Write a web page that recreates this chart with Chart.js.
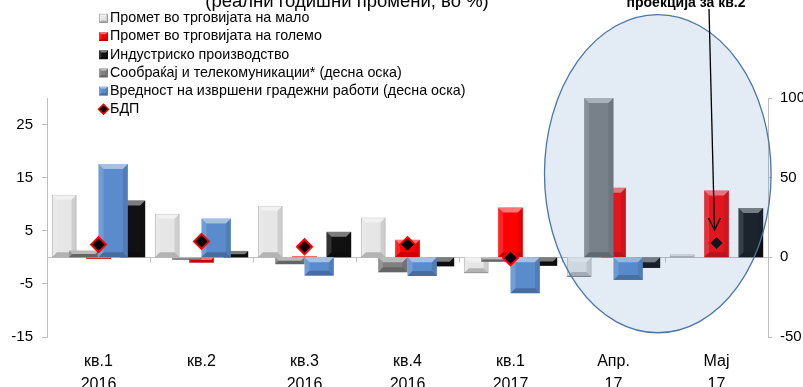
<!DOCTYPE html>
<html>
<head>
<meta charset="utf-8">
<script src="https://cdn.jsdelivr.net/npm/chart.js@4"></script>
<style>
  html, body { margin: 0; padding: 0; background: #fff; }
  #wrap { position: relative; width: 803px; height: 387px; }
  #wrap canvas { position: absolute; left: 0; top: 0; }
</style>
</head>
<body>
<div id="wrap">
  <canvas id="base" width="803" height="387"></canvas>
  <canvas id="right" width="803" height="387"></canvas>
  <canvas id="top" width="803" height="387"></canvas>
</div>
<script>
// categories on the x axis (two-line labels)
const categories = [['кв.1', '2016'], ['кв.2', ''], ['кв.3', '2016'], ['кв.4', '2016'], ['кв.1', '2017'], ['Апр.', '17'], ['Мај', '17']];

// left axis series, real annual change in %
const retail = [11.8, 8.2, 9.7, 7.5, -3.0, -3.7, 0.6];
const wholesale = [-0.3, -1.0, 0.2, 3.3, 9.4, 13.1, 12.6];
const industry = [10.7, 1.2, 4.8, -1.7, -1.6, -2.0, 9.3];
const gdp = [2.4, 3.0, 2.0, 2.4, -0.1, null, 2.7];

// right axis series
const transport = [4.2, -1.5, -4.3, -9.4, -2.8, 100, null];
const construction = [58.5, 24.4, -11.5, -11.7, -22.5, -14.2, null];

const seriesNames = [
  'Промет во трговијата на мало',
  'Промет во трговијата на големо',
  'Индустриско производство',
  'Сообраќај и телекомуникации* (десна оска)',
  'Вредност на извршени градежни работи (десна оска)',
  'БДП'
];

const leftTicks = [-15, -5, 5, 15, 25];
const rightTicks = [-50, 0, 50, 100];

const titleText = '(реални годишни промени, во %)';
const noteText = 'проекција за кв.2';

const FONT = "'Liberation Sans', Arial, sans-serif";

const colors = {
  retail: '#e6e6e6',
  wholesale: '#ff0000',
  industry: '#111111',
  transport: '#808080',
  construction: '#5a8ccd'
};

// plot area shared by the three stacked canvases
const PAD = { left: 47, right: 35, top: 98, bottom: 50 };
const LEFT_MIN = -15, LEFT_MAX = 30, RIGHT_MIN = -50, RIGHT_MAX = 100;

function poly(ctx, pts) {
  ctx.beginPath();
  ctx.moveTo(pts[0][0], pts[0][1]);
  for (let i = 1; i < pts.length; i++) ctx.lineTo(pts[i][0], pts[i][1]);
  ctx.closePath();
  ctx.fill();
}

// soft bevel on a rectangle: light top/left, dark bottom/right
function bevel(ctx, l, t, r, bm) {
  const w = r - l, h = bm - t;
  const b = Math.min(5, h / 2, w / 4);
  if (b <= 0.3) return;
  ctx.fillStyle = 'rgba(255,255,255,0.45)';
  poly(ctx, [[l, t], [r, t], [r - b, t + b], [l + b, t + b]]);
  ctx.fillStyle = 'rgba(255,255,255,0.14)';
  poly(ctx, [[l, t], [l + b, t + b], [l + b, bm - b], [l, bm]]);
  ctx.fillStyle = 'rgba(0,0,0,0.10)';
  poly(ctx, [[r, t], [r, bm], [r - b, bm - b], [r - b, t + b]]);
  ctx.fillStyle = 'rgba(0,0,0,0.22)';
  poly(ctx, [[l, bm], [r, bm], [r - b, bm - b], [l + b, bm - b]]);
}

const bevelPlugin = {
  id: 'bevel',
  afterDatasetDraw(chart, args) {
    const meta = args.meta;
    if (meta.type !== 'bar') return;
    const ctx = chart.ctx;
    ctx.save();
    meta.data.forEach(el => {
      const p = el.getProps(['x', 'y', 'base', 'width'], true);
      if (!isFinite(p.y) || !isFinite(p.base)) return;
      const l = p.x - p.width / 2, r = p.x + p.width / 2;
      const t = Math.min(p.y, p.base), bm = Math.max(p.y, p.base);
      bevel(ctx, l, t, r, bm);
    });
    ctx.restore();
  }
};

// small tick marks on the zero line between categories
const zeroTicksPlugin = {
  id: 'zeroTicks',
  beforeDatasetsDraw(chart) {
    const ctx = chart.ctx;
    const x = chart.scales.x, y = chart.scales.y;
    const y0 = y.getPixelForValue(0);
    ctx.save();
    ctx.strokeStyle = '#bfbfbf';
    ctx.lineWidth = 1;
    for (let i = 0; i <= categories.length; i++) {
      const px = Math.round(x.getPixelForValue(i - 0.5)) + 0.5;
      ctx.beginPath();
      ctx.moveTo(px, y0);
      ctx.lineTo(px, y0 + 5);
      ctx.stroke();
    }
    ctx.restore();
  }
};

// highlight ellipse, title, projection note with arrow, legend
const overlayPlugin = {
  id: 'overlay',
  afterDatasetsDraw(chart) {
    const ctx = chart.ctx;
    const x = chart.scales.x, y = chart.scales.y;
    const cx = x.getPixelForValue(5.43);
    const cy = y.getPixelForValue(15.75);
    const rx = x.getPixelForValue(6.53) - cx;
    const ry = y.getPixelForValue(-14.2) - cy;
    ctx.save();
    ctx.beginPath();
    ctx.ellipse(cx, cy, rx, ry, 0, 0, Math.PI * 2);
    ctx.fillStyle = 'rgba(79,129,189,0.16)';
    ctx.fill();
    ctx.strokeStyle = '#4a75a8';
    ctx.lineWidth = 1.3;
    ctx.stroke();
    ctx.restore();
  },
  afterDraw(chart) {
    const ctx = chart.ctx;
    ctx.save();

    ctx.fillStyle = '#000';
    ctx.font = '18.5px ' + FONT;
    ctx.textAlign = 'center';
    ctx.textBaseline = 'alphabetic';
    ctx.fillText(titleText, 347, 7);

    ctx.font = 'bold 14px ' + FONT;
    ctx.fillText(noteText, 686, 7);
    const pt = chart.getDatasetMeta(0).data[6];
    const tipX = pt.x - 2, tipY = pt.y - 13;
    ctx.strokeStyle = '#000';
    ctx.lineWidth = 1.3;
    ctx.beginPath();
    ctx.moveTo(tipX - 5.5, 9);
    ctx.lineTo(tipX, tipY);
    ctx.stroke();
    ctx.beginPath();
    ctx.moveTo(tipX - 6, tipY - 12);
    ctx.lineTo(tipX, tipY);
    ctx.lineTo(tipX + 6, tipY - 12);
    ctx.stroke();

    const markers = [colors.retail, colors.wholesale, colors.industry, colors.transport, colors.construction, null];
    ctx.font = '14.3px ' + FONT;
    ctx.textAlign = 'left';
    ctx.textBaseline = 'middle';
    seriesNames.forEach((name, i) => {
      const ry = 18.3 + i * 18.2;
      if (markers[i]) {
        ctx.fillStyle = markers[i];
        ctx.fillRect(99, ry - 4.5, 9, 9);
        if (i === 0) {
          ctx.strokeStyle = '#a6a6a6';
          ctx.lineWidth = 1;
          ctx.strokeRect(99.5, ry - 4, 8, 8);
        }
        bevel(ctx, 99, ry - 4.5, 108, ry + 4.5);
      } else {
        ctx.beginPath();
        ctx.moveTo(103.5, ry - 5);
        ctx.lineTo(108.5, ry);
        ctx.lineTo(103.5, ry + 5);
        ctx.lineTo(98.5, ry);
        ctx.closePath();
        ctx.fillStyle = '#000';
        ctx.fill();
        ctx.strokeStyle = '#ff0000';
        ctx.lineWidth = 1.5;
        ctx.stroke();
      }
      ctx.fillStyle = '#000';
      ctx.fillText(name, 110, ry);
    });
    ctx.restore();
  }
};

const common = {
  responsive: false,
  animation: false,
  plugins: { legend: { display: false }, tooltip: { enabled: false }, title: { display: false } }
};

function hiddenScales(min, max) {
  return {
    x: { type: 'category', offset: true, display: false },
    y: { min: min, max: max, display: false }
  };
}

// bottom layer: axes and the left-axis bars
new Chart(document.getElementById('base'), {
  type: 'bar',
  data: {
    labels: categories,
    datasets: [
      { label: seriesNames[0], data: retail, backgroundColor: colors.retail, borderColor: '#a6a6a6', borderWidth: 1 },
      { label: seriesNames[1], data: wholesale, backgroundColor: colors.wholesale, borderWidth: 0 },
      { label: seriesNames[2], data: industry, backgroundColor: colors.industry, borderWidth: 0 }
    ]
  },
  options: Object.assign({}, common, {
    datasets: { bar: { categoryPercentage: 1.0, barPercentage: 0.72 } },
    layout: { padding: { top: PAD.top, left: 0, right: 0, bottom: 0 } },
    scales: {
      x: {
        type: 'category', offset: true,
        grid: { display: false, drawTicks: false },
        border: { display: false },
        ticks: { color: '#000', font: { family: FONT, size: 16, lineHeight: 1.45 }, padding: 13, maxRotation: 0, autoSkip: false },
        afterFit: s => { s.height = PAD.bottom; }
      },
      y: {
        position: 'left', min: LEFT_MIN, max: LEFT_MAX,
        afterBuildTicks: s => { s.ticks = leftTicks.map(v => ({ value: v })); },
        grid: { drawOnChartArea: false, color: '#bfbfbf', tickLength: 5 },
        border: { color: '#bfbfbf' },
        ticks: { color: '#000', font: { family: FONT, size: 15 }, padding: 9 },
        afterFit: s => { s.width = PAD.left; }
      },
      y2: {
        position: 'right', min: RIGHT_MIN, max: RIGHT_MAX,
        afterBuildTicks: s => { s.ticks = rightTicks.map(v => ({ value: v })); },
        grid: {
          color: c => (c.tick && c.tick.value === 0) ? '#bfbfbf' : 'rgba(0,0,0,0)',
          tickColor: '#bfbfbf', tickLength: 4
        },
        border: { color: '#bfbfbf' },
        ticks: { color: '#000', font: { family: FONT, size: 15 }, padding: 8 },
        afterFit: s => { s.width = PAD.right; }
      }
    }
  }),
  plugins: [bevelPlugin, zeroTicksPlugin]
});

// middle layer: right-axis bars
new Chart(document.getElementById('right'), {
  type: 'bar',
  data: {
    labels: categories,
    datasets: [
      { label: seriesNames[3], data: transport, backgroundColor: colors.transport, borderWidth: 0 },
      { label: seriesNames[4], data: construction, backgroundColor: colors.construction, borderWidth: 0 }
    ]
  },
  options: Object.assign({}, common, {
    datasets: { bar: { categoryPercentage: 0.57, barPercentage: 1.0 } },
    layout: { padding: PAD },
    scales: hiddenScales(RIGHT_MIN, RIGHT_MAX)
  }),
  plugins: [bevelPlugin]
});

// top layer: GDP markers and annotations
new Chart(document.getElementById('top'), {
  type: 'line',
  data: {
    labels: categories,
    datasets: [{
      label: seriesNames[5], data: gdp,
      showLine: false, pointStyle: 'rectRot', pointRadius: 7.5,
      pointBackgroundColor: '#000', pointBorderColor: '#ff0000', pointBorderWidth: 2
    }]
  },
  options: Object.assign({}, common, {
    layout: { padding: PAD },
    scales: hiddenScales(LEFT_MIN, LEFT_MAX)
  }),
  plugins: [overlayPlugin]
});
</script>
</body>
</html>
